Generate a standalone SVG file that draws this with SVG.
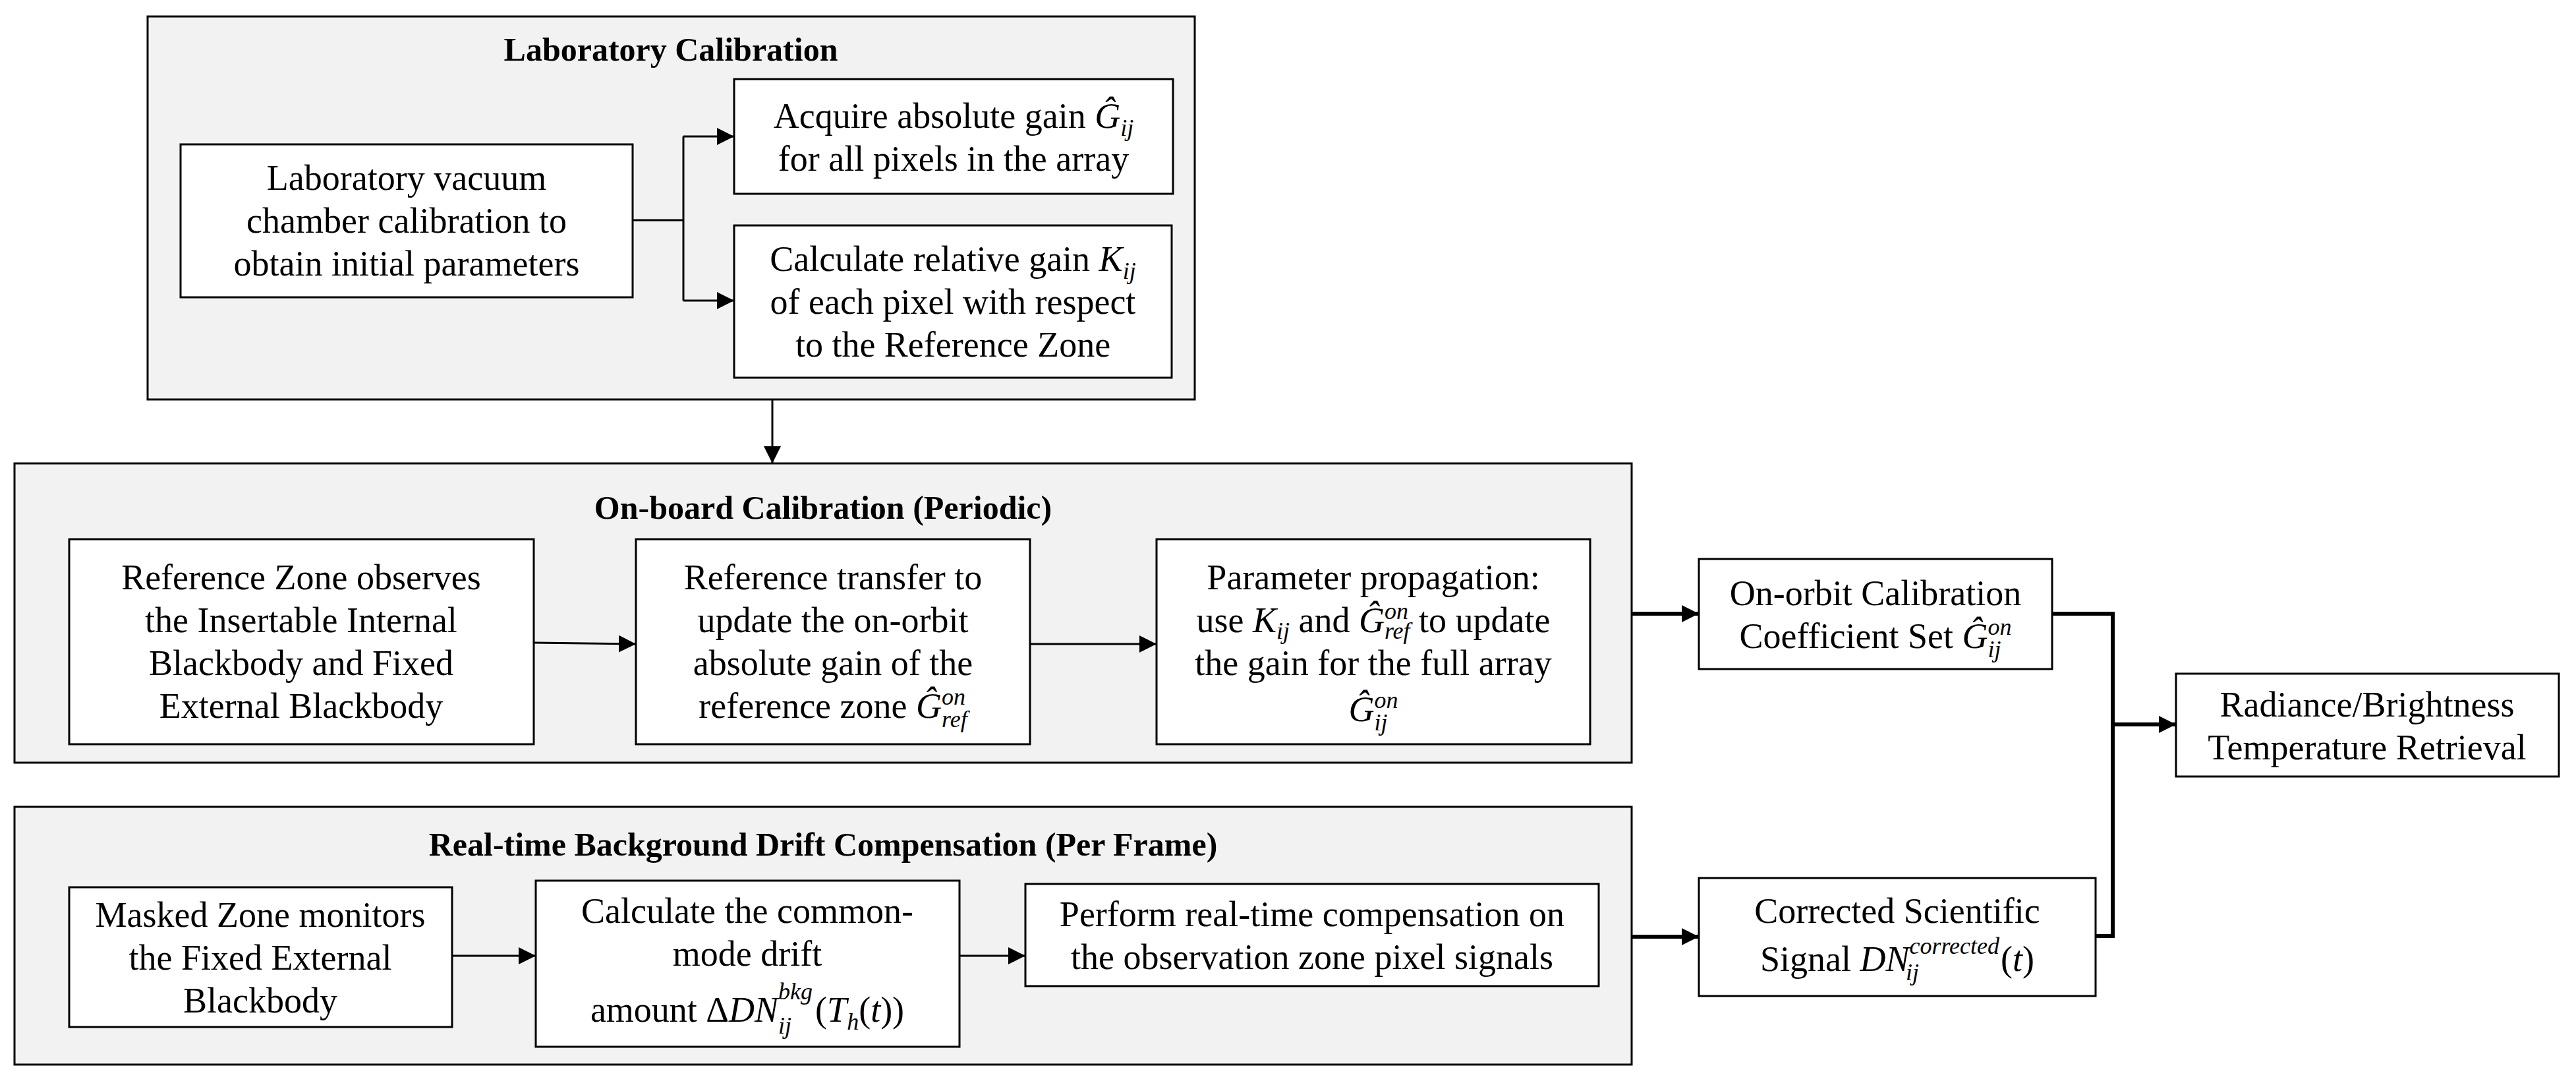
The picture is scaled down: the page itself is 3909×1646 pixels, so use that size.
<svg xmlns="http://www.w3.org/2000/svg" width="3909" height="1646" viewBox="0 0 3909 1646">
<style>
.grp{fill:#f2f2f2;stroke:#000;stroke-width:3}
.box{fill:#fff;stroke:#000;stroke-width:3}
text{font-family:"Liberation Serif","Times New Roman",serif;font-size:54px;fill:#000;text-anchor:middle}
.t{font-weight:bold;font-size:50px}
.m{font-style:italic}
.s{font-style:italic;font-size:36px}
.c{fill:none;stroke:#000;stroke-width:3}
.k{fill:none;stroke:#000;stroke-width:6}
</style>
<defs>
<marker id="ab" viewBox="0 0 10 10" refX="10" refY="5" markerWidth="26" markerHeight="26" markerUnits="userSpaceOnUse" orient="auto"><path d="M0,0L10,5L0,10z"/></marker>
</defs>
<g id="lab">
<rect class="grp" x="224" y="25" width="1589" height="581"/>
<text class="t" x="1018" y="92">Laboratory Calibration</text>
</g>
<g id="onboard">
<rect class="grp" x="22" y="703" width="2454" height="454"/>
<text class="t" x="1249" y="787">On-board Calibration (Periodic)</text>
</g>
<g id="realtime">
<rect class="grp" x="22" y="1224" width="2454" height="391"/>
<text class="t" x="1249" y="1298">Real-time Background Drift Compensation (Per Frame)</text>
</g>
<g id="labvac">
<rect class="box" x="274" y="219" width="686" height="232"/>
<text x="617" y="288">Laboratory vacuum</text>
<text x="617" y="353">chamber calibration to</text>
<text x="617" y="418">obtain initial parameters</text>
</g>
<g id="acquire">
<rect class="box" x="1114" y="120" width="666" height="174"/>
<text x="1447" y="194">Acquire absolute gain <tspan class="m">Ĝ</tspan><tspan class="s" dy="12">ij</tspan></text>
<text x="1447" y="259">for all pixels in the array</text>
</g>
<g id="relgain">
<rect class="box" x="1114" y="342" width="664" height="231"/>
<text x="1446" y="411">Calculate relative gain <tspan class="m">K</tspan><tspan class="s" dy="12">ij</tspan></text>
<text x="1446" y="476">of each pixel with respect</text>
<text x="1446" y="541">to the Reference Zone</text>
</g>
<g id="refzone">
<rect class="box" x="105" y="818" width="705" height="311"/>
<text x="457" y="894">Reference Zone observes</text>
<text x="457" y="959">the Insertable Internal</text>
<text x="457" y="1024">Blackbody and Fixed</text>
<text x="457" y="1089">External Blackbody</text>
</g>
<g id="reftransfer">
<rect class="box" x="965" y="818" width="598" height="311"/>
<text x="1264" y="894">Reference transfer to</text>
<text x="1264" y="959">update the on-orbit</text>
<text x="1264" y="1024">absolute gain of the</text>
<text x="1264" y="1089">reference zone <tspan class="m">Ĝ</tspan><tspan class="s" dy="-20">on</tspan><tspan class="s" dx="-36" dy="34">ref</tspan></text>
</g>
<g id="propagation">
<rect class="box" x="1755" y="818" width="658" height="311"/>
<text x="2084" y="894">Parameter propagation:</text>
<text x="2084" y="959">use <tspan class="m">K</tspan><tspan class="s" dy="10">ij</tspan><tspan dy="-10"> and </tspan><tspan class="m">Ĝ</tspan><tspan class="s" dy="-20">on</tspan><tspan class="s" dx="-36" dy="30">ref</tspan><tspan dy="-10"> to update</tspan></text>
<text x="2084" y="1024">the gain for the full array</text>
<text x="2084" y="1094"><tspan class="m">Ĝ</tspan><tspan class="s" dy="-20">on</tspan><tspan class="s" dx="-36" dy="34">ij</tspan></text>
</g>
<g id="masked">
<rect class="box" x="105" y="1346" width="581" height="212"/>
<text x="395" y="1406">Masked Zone monitors</text>
<text x="395" y="1471">the Fixed External</text>
<text x="395" y="1536">Blackbody</text>
</g>
<g id="commonmode">
<rect class="box" x="813" y="1336" width="643" height="252"/>
<text x="1134" y="1400">Calculate the common-</text>
<text x="1134" y="1465">mode drift</text>
<text x="1134" y="1550">amount Δ<tspan class="m">DN</tspan><tspan class="s" dy="-34">bkg</tspan><tspan class="s" dx="-52" dy="52">ij</tspan><tspan dx="36" dy="-18">(</tspan><tspan class="m">T</tspan><tspan class="s" dy="12">h</tspan><tspan dy="-12">(</tspan><tspan class="m">t</tspan>))</text>
</g>
<g id="perform">
<rect class="box" x="1556" y="1341" width="870" height="155"/>
<text x="1991" y="1405">Perform real-time compensation on</text>
<text x="1991" y="1470">the observation zone pixel signals</text>
</g>
<g id="onorbit">
<rect class="box" x="2578" y="848" width="536" height="167"/>
<text x="2846" y="918">On-orbit Calibration</text>
<text x="2846" y="983">Coefficient Set <tspan class="m">Ĝ</tspan><tspan class="s" dy="-20">on</tspan><tspan class="s" dx="-36" dy="34">ij</tspan></text>
</g>
<g id="corrected">
<rect class="box" x="2578" y="1332" width="602" height="179"/>
<text x="2879" y="1400">Corrected Scientific</text>
<text x="2879" y="1473">Signal <tspan class="m">DN</tspan><tspan class="s" dy="-26">corrected</tspan><tspan class="s" dx="-142" dy="40">ij</tspan><tspan dx="124" dy="-14">(</tspan><tspan class="m">t</tspan>)</text>
</g>
<g id="radiance">
<rect class="box" x="3302" y="1022" width="581" height="156"/>
<text x="3592" y="1087">Radiance/Brightness</text>
<text x="3592" y="1152">Temperature Retrieval</text>
</g>
<g id="connectors">
<path class="c" d="M960,334H1037"/>
<path class="c" d="M1037,207V456"/>
<path class="c" d="M1037,207H1114" marker-end="url(#ab)"/>
<path class="c" d="M1037,456H1114" marker-end="url(#ab)"/>
<path class="c" d="M1172,606V703" marker-end="url(#ab)"/>
<path class="c" d="M810,975L965,977" marker-end="url(#ab)"/>
<path class="c" d="M1563,977H1755" marker-end="url(#ab)"/>
<path class="c" d="M686,1450H813" marker-end="url(#ab)"/>
<path class="c" d="M1456,1450H1556" marker-end="url(#ab)"/>
<path class="k" d="M2476,931H2578" marker-end="url(#ab)"/>
<path class="k" d="M2476,1421H2578" marker-end="url(#ab)"/>
<path class="k" d="M3114,931H3206V1420H3180"/>
<path class="k" d="M3206,1099H3302" marker-end="url(#ab)"/>
</g>
</svg>
